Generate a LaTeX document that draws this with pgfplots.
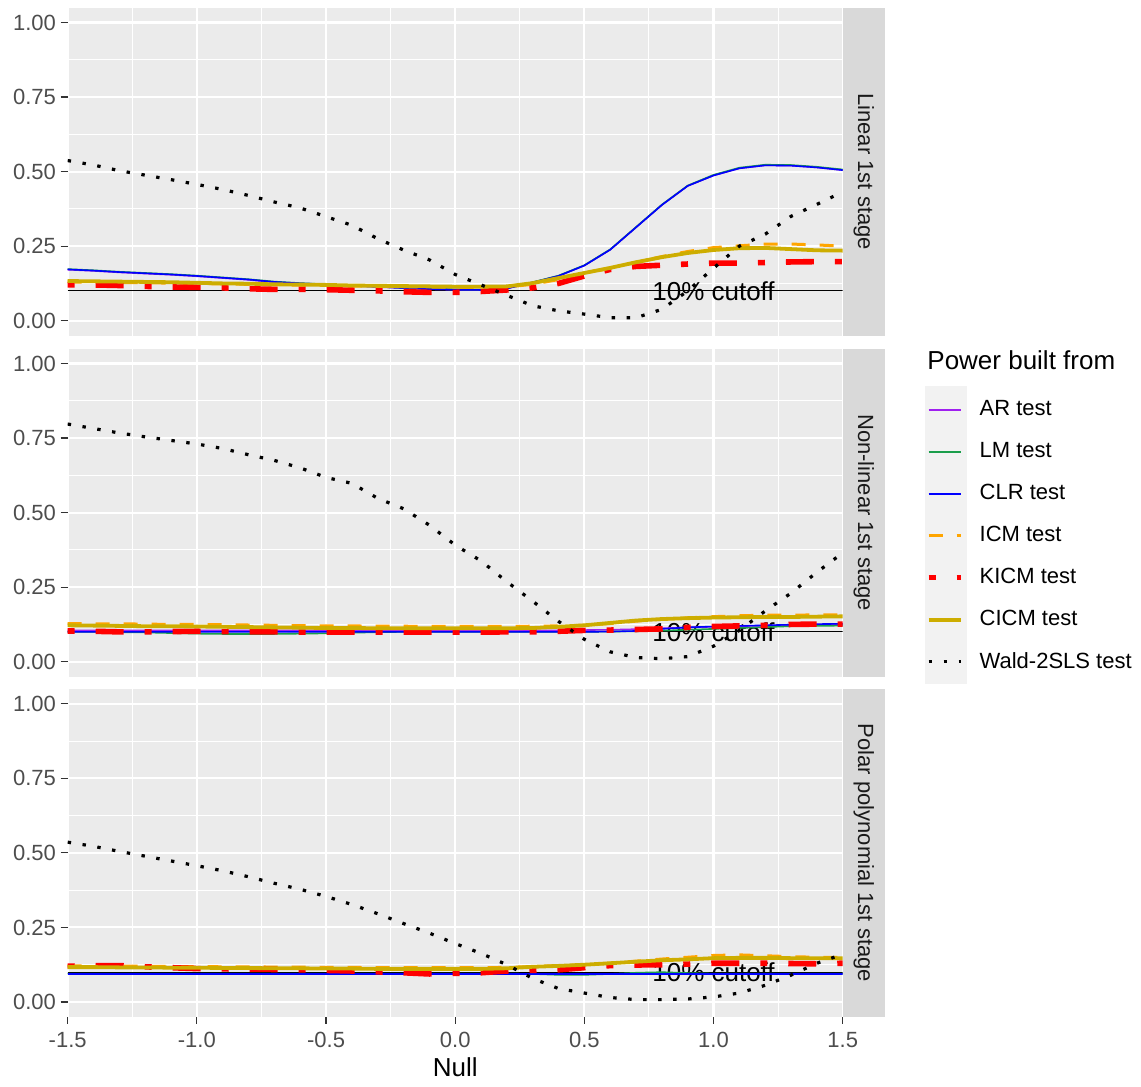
\documentclass[border=0pt]{standalone}
\usepackage{fontspec}
\setmainfont{Liberation Sans}
\usepackage{pgfplots}
\pgfplotsset{compat=1.18}
\usepackage{pgfplotstable}

\definecolor{panelbg}{HTML}{EBEBEB}
\definecolor{stripbg}{HTML}{D9D9D9}
\definecolor{keybg}{HTML}{F2F2F2}
\definecolor{grey30}{HTML}{4D4D4D}
\definecolor{grey20}{HTML}{333333}
\definecolor{grey10}{HTML}{1A1A1A}
\definecolor{ARcolor}{HTML}{A020F0}
\definecolor{LMcolor}{HTML}{1B9E4B}
\definecolor{CLRcolor}{HTML}{0000FF}
\definecolor{ICMcolor}{HTML}{FFA500}
\definecolor{KICMcolor}{HTML}{FF0000}
\definecolor{CICMcolor}{HTML}{CDAD00}

% x ar lm clr icm kicm cicm wald
\pgfplotstableread{
x ar lm clr icm kicm cicm wald
-1.5 .171 .173 .172 .130 .120 .133 .537
-1.4 .167 .169 .168 .129 .120 .132 .522
-1.3 .162 .164 .163 .128 .118 .131 .503
-1.2 .158 .160 .159 .127 .115 .130 .488
-1.1 .154 .156 .155 .126 .113 .129 .473
-1.0 .149 .151 .150 .125 .112 .127 .457
-0.9 .143 .145 .144 .123 .110 .125 .440
-0.8 .137 .139 .138 .122 .107 .124 .420
-0.7 .129 .131 .130 .120 .105 .122 .398
-0.6 .124 .126 .125 .119 .105 .121 .378
-0.5 .121 .122 .122 .118 .104 .120 .349
-0.4 .117 .118 .118 .116 .102 .118 .320
-0.3 .113 .114 .114 .115 .100 .117 .275
-0.2 .109 .110 .110 .114 .097 .116 .237
-0.1 .106 .107 .106 .113 .095 .115 .204
0.0 .104 .105 .104 .112 .095 .114 .155
0.1 .103 .104 .103 .112 .098 .114 .120
0.2 .108 .109 .108 .113 .103 .115 .085
0.3 .128 .129 .128 .122 .110 .126 .050
0.4 .150 .151 .150 .138 .125 .143 .033
0.5 .185 .186 .185 .158 .150 .160 .022
0.6 .238 .239 .238 .176 .172 .177 .010
0.7 .313 .314 .313 .196 .182 .196 .010
0.8 .388 .389 .388 .215 .186 .213 .038
0.9 .452 .453 .452 .232 .190 .227 .100
1.0 .487 .489 .487 .245 .193 .237 .176
1.1 .511 .513 .511 .251 .193 .243 .250
1.2 .521 .523 .521 .257 .195 .244 .290
1.3 .520 .522 .520 .257 .197 .240 .350
1.4 .514 .516 .514 .254 .198 .236 .390
1.5 .505 .507 .505 .250 .198 .235 .432
}\toptab

\pgfplotstableread{
x ar lm clr icm kicm cicm wald
-1.5 .105 .100 .100 .128 .103 .122 .797
-1.4 .105 .100 .100 .127 .102 .121 .782
-1.3 .105 .099 .100 .127 .100 .120 .767
-1.2 .105 .098 .100 .126 .100 .119 .754
-1.1 .105 .096 .100 .125 .101 .119 .742
-1.0 .105 .094 .100 .125 .102 .118 .730
-0.9 .105 .093 .100 .124 .101 .117 .715
-0.8 .105 .093 .100 .123 .100 .116 .694
-0.7 .105 .093 .100 .122 .100 .115 .675
-0.6 .105 .094 .100 .121 .099 .114 .650
-0.5 .105 .095 .100 .120 .099 .113 .618
-0.4 .105 .097 .100 .120 .099 .113 .598
-0.3 .105 .099 .100 .119 .099 .112 .548
-0.2 .105 .100 .100 .119 .099 .112 .513
-0.1 .105 .100 .100 .118 .099 .112 .458
0.0 .105 .100 .100 .118 .099 .112 .391
0.1 .105 .100 .100 .118 .099 .112 .338
0.2 .105 .100 .100 .118 .100 .112 .268
0.3 .105 .100 .100 .119 .100 .113 .203
0.4 .105 .100 .100 .120 .102 .117 .135
0.5 .106 .100 .100 .122 .105 .122 .075
0.6 .107 .101 .101 .128 .106 .130 .033
0.7 .109 .102 .103 .136 .108 .138 .014
0.8 .112 .104 .110 .142 .110 .143 .010
0.9 .115 .107 .115 .147 .115 .146 .017
1.0 .117 .110 .118 .151 .118 .148 .052
1.1 .119 .113 .120 .154 .120 .149 .105
1.2 .121 .116 .122 .156 .122 .150 .170
1.3 .123 .119 .124 .156 .125 .150 .230
1.4 .124 .120 .126 .157 .126 .151 .300
1.5 .125 .121 .127 .157 .126 .152 .365
}\midtab

\pgfplotstableread{
x ar lm clr icm kicm cicm wald
-1.5 .095 .095 .094 .121 .120 .117 .536
-1.4 .095 .095 .094 .121 .122 .117 .522
-1.3 .095 .095 .094 .120 .122 .116 .505
-1.2 .095 .095 .094 .120 .118 .116 .489
-1.1 .095 .095 .094 .119 .115 .115 .473
-1.0 .095 .095 .094 .119 .112 .115 .457
-0.9 .095 .095 .094 .118 .111 .114 .440
-0.8 .095 .095 .094 .118 .110 .114 .420
-0.7 .095 .095 .094 .117 .109 .113 .398
-0.6 .095 .095 .094 .117 .108 .113 .378
-0.5 .095 .095 .094 .116 .106 .112 .354
-0.4 .095 .095 .094 .116 .104 .112 .327
-0.3 .095 .095 .094 .115 .101 .111 .296
-0.2 .095 .095 .094 .115 .098 .111 .263
-0.1 .095 .095 .094 .115 .094 .111 .231
0.0 .095 .095 .094 .115 .096 .111 .196
0.1 .095 .095 .094 .115 .098 .111 .163
0.2 .095 .095 .094 .116 .104 .113 .125
0.3 .095 .094 .094 .119 .106 .118 .079
0.4 .095 .091 .094 .122 .108 .121 .045
0.5 .095 .091 .094 .125 .115 .125 .030
0.6 .095 .094 .094 .130 .122 .130 .015
0.7 .095 .098 .094 .137 .124 .135 .008
0.8 .095 .100 .094 .144 .125 .140 .008
0.9 .095 .097 .094 .150 .127 .143 .010
1.0 .095 .095 .094 .156 .130 .147 .017
1.1 .095 .095 .094 .158 .130 .148 .030
1.2 .095 .095 .094 .155 .130 .148 .056
1.3 .095 .095 .094 .152 .129 .147 .090
1.4 .095 .095 .094 .150 .128 .147 .130
1.5 .095 .095 .094 .149 .130 .147 .160
}\bottab

\pgfplotsset{
  panel/.style={
    scale only axis, width=387.5pt, height=164pt,
    xmin=-1.5, xmax=1.5, ymin=-0.05, ymax=1.05,
    axis background/.style={fill=panelbg},
    axis line style={draw=none},
    xtick={-1.5,-1,-0.5,0,0.5,1,1.5},
    minor xtick={-1.25,-0.75,-0.25,0.25,0.75,1.25},
    ytick={0,0.25,0.5,0.75,1},
    minor ytick={0.125,0.375,0.625,0.875},
    yticklabels={0.00,0.25,0.50,0.75,1.00},
    grid=both,
    major grid style={white, line width=1.05pt},
    minor grid style={white, line width=0.5pt},
    tick align=outside, major tick length=3.5pt, minor tick length=0pt,
    tick style={grey20, line width=0.55pt},
    ytick pos=left, xtick pos=bottom,
    yticklabel style={font=\fontsize{11}{13}\selectfont, text=grey30, inner sep=0pt, xshift=-2.2pt},
    xticklabel style={font=\fontsize{11}{13}\selectfont, text=grey30, inner sep=0pt, yshift=-4pt},
  },
  noxlab/.style={xticklabels={}, x tick style={draw=none}},
  keyline/.style={legend image code/.code={%
      \path[draw=none, line width=0pt] (-1.8pt,-10.5pt) rectangle (19pt,10.5pt);
      \draw[#1] (0pt,0pt) -- (16.3pt,0pt);}},
  ARstyle/.style={draw=ARcolor, line width=0.8pt, keyline={draw=ARcolor, line width=0.9pt}},
  LMstyle/.style={draw=LMcolor, line width=0.8pt, keyline={draw=LMcolor, line width=0.9pt}},
  CLRstyle/.style={draw=CLRcolor, line width=0.8pt, keyline={draw=CLRcolor, line width=0.9pt}},
  ICMstyle/.style={draw=ICMcolor, line width=1.5pt, dash pattern=on 7pt off 7pt,
     keyline={draw=ICMcolor, line width=1.5pt, dash pattern=on 7pt off 7pt}},
  KICMstyle/.style={draw=KICMcolor, line width=2.8pt, dash pattern=on 3.5pt off 10.5pt on 14pt off 10.5pt,
     keyline={draw=KICMcolor, line width=2.8pt, dash pattern=on 3.5pt off 10.5pt on 14pt off 10.5pt}},
  CICMstyle/.style={draw=CICMcolor, line width=1.9pt, keyline={draw=CICMcolor, line width=1.9pt}},
  WALDstyle/.style={draw=black, line width=1.6pt, dash pattern=on 1.7pt off 5.8pt,
     keyline={draw=black, line width=1.6pt, dash pattern=on 1.7pt off 5.8pt}},
}

\newcommand\drawseries[1]{%
  \addplot[black, line width=0.6pt, forget plot] coordinates {(-1.5,0.1) (1.5,0.1)};
  \node[font=\fontsize{13}{15}\selectfont, inner sep=0pt] at (axis cs:1,0.1) {10\% cutoff};
  \addplot[ARstyle] table[x=x,y=ar]{#1};
  \addplot[LMstyle] table[x=x,y=lm]{#1};
  \addplot[CLRstyle] table[x=x,y=clr]{#1};
  \addplot[ICMstyle] table[x=x,y=icm]{#1};
  \addplot[KICMstyle] table[x=x,y=kicm]{#1};
  \addplot[CICMstyle] table[x=x,y=cicm]{#1};
  \addplot[WALDstyle] table[x=x,y=wald]{#1};
}

\newcommand\strip[2]{%
  \fill[stripbg] (#1.south east) rectangle ([xshift=21.15pt]#1.north east);
  \node[rotate=-90, font=\fontsize{11}{13}\selectfont, text=grey10, inner sep=0pt] at ([xshift=10.6pt]#1.east) {#2};
}

\begin{document}
\begin{tikzpicture}
\path[use as bounding box] (0,0) rectangle (570.5pt,543.5pt);

% legend key background column
\fill[keybg] (462.5pt,201.5pt) rectangle (483.35pt,350.5pt);

\begin{axis}[panel, noxlab, name=top, at={(33.85pt,375.7pt)}, anchor=south west]
\drawseries{\toptab}
\end{axis}
\strip{top}{Linear 1st stage}

\begin{axis}[panel, noxlab, name=mid, at={(33.85pt,205.2pt)}, anchor=south west,
  legend cell align=left,
  legend style={draw=none, fill=none, inner sep=0pt, outer sep=0pt,
    row sep=0pt, column sep=6.5pt,
    nodes={inner sep=0pt, font=\fontsize{11}{13}\selectfont},
    at={(1.1063,0.878)}, anchor=north west}]
\drawseries{\midtab}
\legend{AR test, LM test, CLR test, ICM test, KICM test, CICM test, Wald-2SLS test}
\end{axis}
\strip{mid}{Non-linear 1st stage}

\begin{axis}[panel, name=bot, at={(33.85pt,35.05pt)}, anchor=south west,
  xticklabels={-1.5,-1.0,-0.5,0.0,0.5,1.0,1.5}]
\drawseries{\bottab}
\end{axis}
\strip{bot}{Polar polynomial 1st stage}

\node[font=\fontsize{13}{15}\selectfont, anchor=center, inner sep=0pt] at ([yshift=-25.2pt]bot.south) {Null};
\node[font=\fontsize{13}{15}\selectfont, anchor=base west, inner sep=0pt] at (463.5pt,358.5pt) {Power built from};
\end{tikzpicture}
\end{document}
